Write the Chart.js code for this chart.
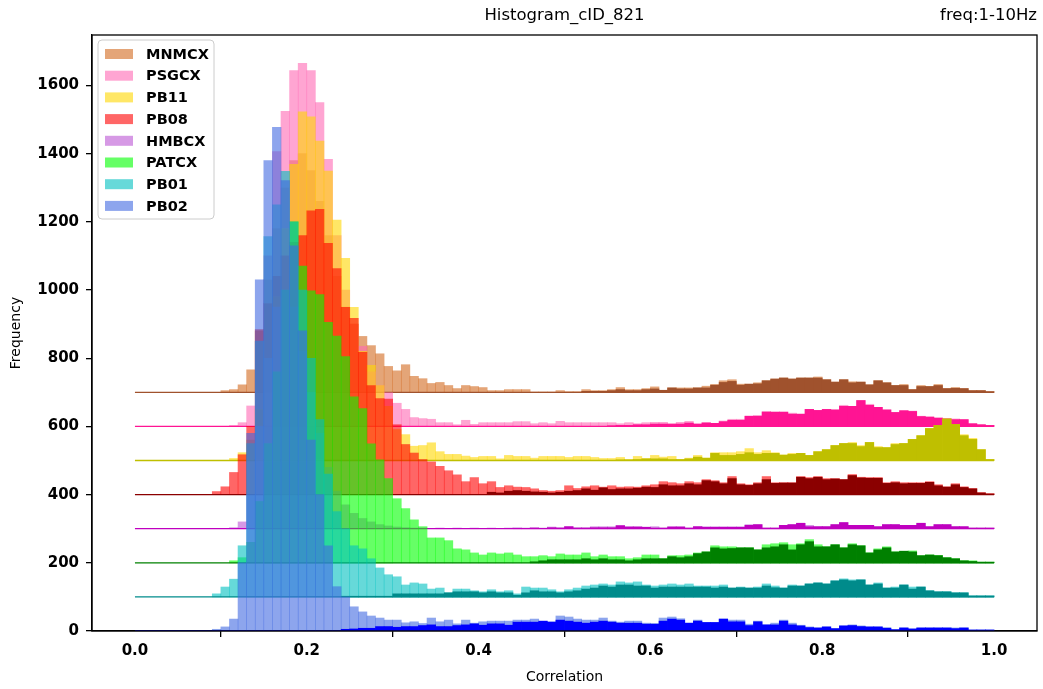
<!DOCTYPE html>
<html>
<head>
<meta charset="utf-8">
<script src="https://cdn.jsdelivr.net/npm/chart.js@4.4.0/dist/chart.umd.min.js"></script>
<style>
html,body{margin:0;padding:0;background:#fff;}
#wrap{width:1043px;height:689px;position:relative;}
</style>
</head>
<body>
<div id="wrap"><canvas id="c" width="1043" height="689"></canvas></div>
<script>
// ---- categories: histogram bin centres (bin width 0.01) ----
const binCenters = [
0.005,0.015,0.025,0.035,0.045,0.055,0.065,0.075,0.085,0.095,
0.105,0.115,0.125,0.135,0.145,0.155,0.165,0.175,0.185,0.195,
0.205,0.215,0.225,0.235,0.245,0.255,0.265,0.275,0.285,0.295,
0.305,0.315,0.325,0.335,0.345,0.355,0.365,0.375,0.385,0.395,
0.405,0.415,0.425,0.435,0.445,0.455,0.465,0.475,0.485,0.495,
0.505,0.515,0.525,0.535,0.545,0.555,0.565,0.575,0.585,0.595,
0.605,0.615,0.625,0.635,0.645,0.655,0.665,0.675,0.685,0.695,
0.705,0.715,0.725,0.735,0.745,0.755,0.765,0.775,0.785,0.795,
0.805,0.815,0.825,0.835,0.845,0.855,0.865,0.875,0.885,0.895,
0.905,0.915,0.925,0.935,0.945,0.955,0.965,0.975,0.985,0.995];

const stations = ['MNMCX','PSGCX','PB11','PB08','HMBCX','PATCX','PB01','PB02'];
const offsets  = [700,600,500,400,300,200,100,0];
const xTickValues = [0.0,0.2,0.4,0.6,0.8,1.0];
const yTickValues = [0,200,400,600,800,1000,1200,1400,1600];

// ---- counts per bin: all correlations (light) and subset (dark) ----
const mnmcxAll = [0,0,0,0,0,0,0,0,0,0, 5,8,22,66,180,330,480,600,680,700, 650,560,460,340,250,200,164,137,113,76, 63,81,47,40,26,29,20,11,20,17, 14,5,5,8,8,8,1,1,1,5, 2,2,8,5,5,8,14,8,8,11, 16,6,13,13,13,13,18,23,34,37, 24,24,28,34,39,42,39,42,42,45, 37,30,37,31,30,22,34,28,20,23, 8,20,17,23,11,14,11,5,5,2];
const mnmcxSub = [0,0,0,0,0,0,0,0,0,0, 0,0,0,0,0,0,0,0,0,0, 0,0,0,0,0,0,0,0,0,0, 0,0,0,0,0,0,0,0,0,0, 0,0,0,0,0,0,0,0,0,0, 0,0,3,3,3,5,8,5,5,8, 10,6,13,10,10,13,13,21,29,32, 21,24,25,34,39,42,39,42,42,42, 37,30,37,28,30,22,34,28,20,20, 8,17,17,20,11,12,11,5,5,2];

const psgcxAll = [0,0,0,0,0,0,0,0,0,0, 0,3,11,60,250,500,806,924,1044,1065, 1044,950,783,560,400,300,235,160,120,99, 68,50,26,23,21,11,11,5,18,6, 11,11,11,11,14,14,8,11,8,15, 11,11,11,11,11,11,8,11,8,11, 12,12,9,12,15,7,12,9,16,21, 21,30,32,44,42,42,39,36,50,47, 50,50,62,59,76,65,56,50,41,47, 45,30,29,26,23,22,20,8,5,3];
const psgcxSub = [0,0,0,0,0,0,0,0,0,0, 0,0,0,0,0,0,0,0,0,0, 0,0,0,0,0,0,0,0,0,0, 0,0,0,0,0,0,0,0,0,0, 0,0,0,0,0,0,0,0,0,0, 0,0,0,0,0,2,3,3,5,5, 7,7,6,7,10,7,10,9,14,18, 18,30,30,42,42,42,36,36,50,47, 50,48,59,59,76,62,56,48,41,46, 44,29,27,24,22,20,20,8,5,3];

const pb11All = [0,0,0,0,0,0,0,0,0,0, 0,6,23,60,150,300,480,680,869,1023, 1008,937,849,705,593,449,320,279,220,159, 91,76,42,44,52,26,18,18,13,9, 12,12,5,15,12,12,7,12,12,12, 9,12,12,9,6,6,9,3,12,6, 15,10,12,3,7,15,7,23,23,23, 26,35,23,29,23,16,21,21,15,26, 32,44,50,53,44,53,41,38,50,50, 62,73,94,103,122,106,76,65,32,3];
const pb11Sub = [0,0,0,0,0,0,0,0,0,0, 0,0,0,0,0,0,0,0,0,0, 0,0,0,0,0,0,0,0,0,0, 0,0,0,0,0,0,0,0,0,0, 0,0,0,0,0,0,0,0,0,0, 0,0,0,0,0,0,2,2,3,5, 5,5,3,3,5,10,7,21,15,15, 18,23,18,21,21,16,18,21,15,26, 32,44,50,50,41,53,38,38,47,50, 62,73,94,103,122,106,73,62,32,3];

const pb08All = [0,0,0,0,0,0,0,0,0,9, 23,65,117,200,484,560,640,700,740,760, 832,837,737,663,549,517,417,320,282,280, 205,147,122,103,96,83,70,58,38,50, 32,38,21,26,22,21,17,12,10,12, 26,18,23,26,22,26,22,23,22,26, 29,38,35,32,38,35,44,41,35,53, 32,29,35,53,35,35,35,53,50,53, 47,47,44,59,51,50,50,35,38,35, 35,35,38,29,23,32,23,18,6,3];
const pb08Sub = [0,0,0,0,0,0,0,0,0,0, 0,0,0,0,0,0,0,0,0,0, 0,0,0,0,0,0,0,0,0,0, 0,0,0,0,0,0,0,0,0,0, 0,7,5,10,12,10,8,7,5,7, 10,12,17,13,20,15,17,17,19,22, 21,29,26,26,32,29,41,38,32,47, 29,27,32,44,33,34,34,51,47,51, 44,46,44,56,49,48,48,33,35,32, 33,33,36,26,22,29,21,17,5,2];

const hmbcxAll = [0,0,0,0,0,0,0,0,0,0, 0,3,20,100,300,500,650,700,650,520, 400,280,180,110,70,45,30,20,12,8, 5,3,2,2,0,2,0,2,0,2, 0,2,0,2,3,2,3,2,5,3, 6,3,3,6,6,6,9,6,6,5, 6,2,6,6,2,6,6,6,6,6, 6,12,12,2,2,10,12,16,10,6, 6,12,18,10,10,10,6,12,12,10, 10,16,6,12,12,6,6,2,2,2];
const hmbcxSub = [0,0,0,0,0,0,0,0,0,0, 0,0,0,0,0,0,0,0,0,0, 0,0,0,0,0,0,0,0,0,0, 0,0,0,0,0,0,0,0,0,0, 0,0,0,0,1,1,2,1,3,2, 6,2,2,3,3,3,9,5,5,4, 2,2,5,5,2,6,4,4,4,4, 4,10,12,2,2,10,12,16,6,6, 6,12,18,10,10,10,6,12,12,10, 10,16,6,12,12,6,6,2,2,2];

const patcxAll = [0,0,0,0,0,0,0,0,0,0, 0,6,15,60,180,350,560,800,1000,870, 798,787,705,665,605,487,452,349,302,247, 188,159,126,106,73,73,65,41,38,29, 23,29,26,29,23,18,18,21,18,26, 23,23,29,18,23,18,18,12,15,23, 23,12,21,21,23,29,32,50,47,47, 44,44,38,53,56,59,53,56,68,53, 47,53,44,56,50,29,41,47,32,34, 35,21,23,22,15,12,6,6,2,2];
const patcxSub = [0,0,0,0,0,0,0,0,0,0, 0,0,0,0,0,0,0,0,0,0, 0,0,0,0,0,0,0,0,0,0, 0,0,0,0,0,0,0,0,0,0, 0,0,0,0,0,0,3,6,9,9, 9,9,12,9,12,9,9,6,9,12, 12,12,18,15,18,27,32,44,41,42, 44,44,38,44,47,53,38,53,62,47, 47,53,44,53,50,29,38,44,32,34, 32,21,23,21,15,12,6,4,2,2];

const pb01All = [0,0,0,0,0,0,0,0,0,9, 29,52,150,450,750,1057,1150,1248,1100,900, 700,520,360,250,200,150,141,112,85,65, 59,35,41,38,23,26,12,23,23,18, 15,21,15,18,9,29,26,26,21,15, 21,26,32,35,38,35,44,41,44,35, 32,35,38,35,38,32,32,32,35,26, 29,26,29,38,32,26,35,32,38,41, 38,47,53,50,50,35,41,26,29,35, 29,29,18,15,15,12,12,3,3,3];
const pb01Sub = [0,0,0,0,0,0,0,0,0,0, 0,0,0,0,0,0,0,0,0,0, 0,0,0,0,2,2,2,2,2,2, 9,9,9,9,9,9,12,15,15,15, 12,15,12,12,5,12,18,15,15,12, 15,18,23,26,32,29,35,35,32,32, 26,29,29,29,29,29,29,26,29,26, 27,26,26,32,27,26,32,32,38,41, 38,47,50,47,50,35,38,26,26,35, 23,29,18,15,15,12,12,3,3,3];

const pb02All = [0,0,0,0,0,0,0,0,0,5, 12,35,200,580,1030,1380,1477,1321,1130,880, 560,400,250,130,100,71,56,44,38,32, 32,24,27,22,38,27,32,21,32,23, 27,29,29,29,32,32,35,27,27,44, 41,35,32,32,38,29,26,29,29,23, 22,38,41,36,23,32,25,25,35,32, 32,20,29,18,23,32,23,17,12,9, 12,7,15,18,15,12,12,10,4,9, 6,9,9,9,9,9,9,3,3,3];
const pb02Sub = [0,0,0,0,0,0,0,0,0,0, 0,0,0,0,0,0,0,0,0,0, 0,0,0,0,5,6,8,8,13,13, 11,13,13,16,18,13,13,16,18,21, 17,21,21,17,26,26,26,29,26,32, 29,26,23,26,29,26,23,23,23,20, 20,29,35,32,23,29,25,25,35,27, 27,16,27,18,18,29,18,15,10,9, 12,7,15,16,13,12,12,8,4,9, 6,9,9,9,9,7,9,3,3,3];

const allCounts = [mnmcxAll, psgcxAll, pb11All, pb08All, hmbcxAll, patcxAll, pb01All, pb02All];
const subCounts = [mnmcxSub, psgcxSub, pb11Sub, pb08Sub, hmbcxSub, patcxSub, pb01Sub, pb02Sub];

// ---- styles ----
const lightColors = ['rgba(210,105,30,0.6)','rgba(255,105,180,0.6)','rgba(255,215,0,0.6)','rgba(255,0,0,0.6)',
                     'rgba(186,85,211,0.6)','rgba(0,255,0,0.6)','rgba(0,191,191,0.6)','rgba(65,105,225,0.6)'];
const darkColors  = ['#a0522d','#ff1493','#bfbf00','#8b0000','#bf00bf','#008000','#008b8b','#0000ff'];

// ---- build datasets in drawing order (first = bottom) ----
const seq = [];
stations.forEach((name, s) => {
  const off = offsets[s];
  const mk = (arr) => binCenters.map((x, i) => ({x: x, y: [off, off + arr[i]]})).filter((p, i) => arr[i] > 0);
  seq.push({type:'bar', label: name, data: mk(allCounts[s]), backgroundColor: lightColors[s], borderWidth: 0,
            barPercentage: 1, categoryPercentage: 1, grouped: false});
  seq.push({type:'bar', label: name + ' sub', data: mk(subCounts[s]), backgroundColor: darkColors[s], borderWidth: 0,
            barPercentage: 1, categoryPercentage: 1, grouped: false});
  seq.push({type:'line', label: name + ' base', data: [{x: 0, y: off}, {x: 1, y: off}], borderColor: darkColors[s],
            borderWidth: 1.3, pointRadius: 0, fill: false, tension: 0});
});
const N = seq.length;
seq.forEach((d, i) => { d.order = N - i; });

const FONT = 'DejaVu Sans';

const decorPlugin = {
  id: 'decor',
  afterDraw(chart) {
    const ctx = chart.ctx;
    const a = chart.chartArea;
    ctx.save();
    // frame
    ctx.strokeStyle = '#000';
    ctx.lineWidth = 1.3;
    ctx.strokeRect(a.left, a.top, a.right - a.left, a.bottom - a.top);
    // titles
    ctx.fillStyle = '#000';
    ctx.font = '16.5px "' + FONT + '"';
    ctx.textBaseline = 'alphabetic';
    ctx.textAlign = 'center';
    ctx.fillText('Histogram_cID_821', (a.left + a.right) / 2, 20);
    ctx.textAlign = 'right';
    ctx.fillText('freq:1-10Hz', a.right, 20);
    // legend
    const lx = 98, ly = 40, lw = 116, lh = 179, r = 4;
    ctx.beginPath();
    ctx.moveTo(lx + r, ly);
    ctx.arcTo(lx + lw, ly, lx + lw, ly + lh, r);
    ctx.arcTo(lx + lw, ly + lh, lx, ly + lh, r);
    ctx.arcTo(lx, ly + lh, lx, ly, r);
    ctx.arcTo(lx, ly, lx + lw, ly, r);
    ctx.closePath();
    ctx.fillStyle = 'rgba(255,255,255,0.8)';
    ctx.fill();
    ctx.strokeStyle = '#cccccc';
    ctx.lineWidth = 1;
    ctx.stroke();
    ctx.font = 'bold 14.5px "' + FONT + '"';
    ctx.textAlign = 'left';
    ctx.textBaseline = 'middle';
    stations.forEach((name, s) => {
      const cy = 54 + s * 21.7;
      ctx.fillStyle = lightColors[s];
      ctx.fillRect(105, cy - 5, 28, 10);
      ctx.fillStyle = '#000';
      ctx.fillText(name, 146, cy + 1);
    });
    ctx.restore();
  }
};

new Chart(document.getElementById('c'), {
  type: 'bar',
  data: { datasets: seq },
  options: {
    responsive: false,
    animation: false,
    devicePixelRatio: 1,
    layout: { padding: { left: 0, right: 6, top: 35, bottom: 0 } },
    plugins: { legend: { display: false }, tooltip: { enabled: false }, title: { display: false } },
    scales: {
      x: {
        type: 'linear', min: -0.05, max: 1.05, offset: false,
        afterBuildTicks: (s) => { s.ticks = xTickValues.map(v => ({ value: v })); },
        afterFit: (s) => { s.height = 58; },
        ticks: { callback: (v) => Number(v).toFixed(1), color: '#000', padding: 5, maxRotation: 0, autoSkip: false,
                 font: { family: FONT, size: 15, weight: 'bold' } },
        grid: { display: true, drawOnChartArea: false, drawTicks: true, tickLength: 6, color: '#000', lineWidth: 1.3 },
        border: { display: true, color: '#000', width: 1.3 },
        title: { display: true, text: 'Correlation', color: '#000', font: { family: FONT, size: 14 }, padding: { top: 0, bottom: 3 } }
      },
      y: {
        type: 'linear', min: 0, max: 1748,
        afterBuildTicks: (s) => { s.ticks = yTickValues.map(v => ({ value: v })); },
        afterFit: (s) => { s.width = 92; },
        ticks: { callback: (v) => String(v), color: '#000', padding: 7,
                 font: { family: FONT, size: 15, weight: 'bold' } },
        grid: { display: true, drawOnChartArea: false, drawTicks: true, tickLength: 6, color: '#000', lineWidth: 1.3 },
        border: { display: true, color: '#000', width: 1.3 },
        title: { display: true, text: 'Frequency', color: '#000', font: { family: FONT, size: 14 }, padding: { top: 8, bottom: 0 } }
      }
    }
  },
  plugins: [decorPlugin]
});
</script>
</body>
</html>
